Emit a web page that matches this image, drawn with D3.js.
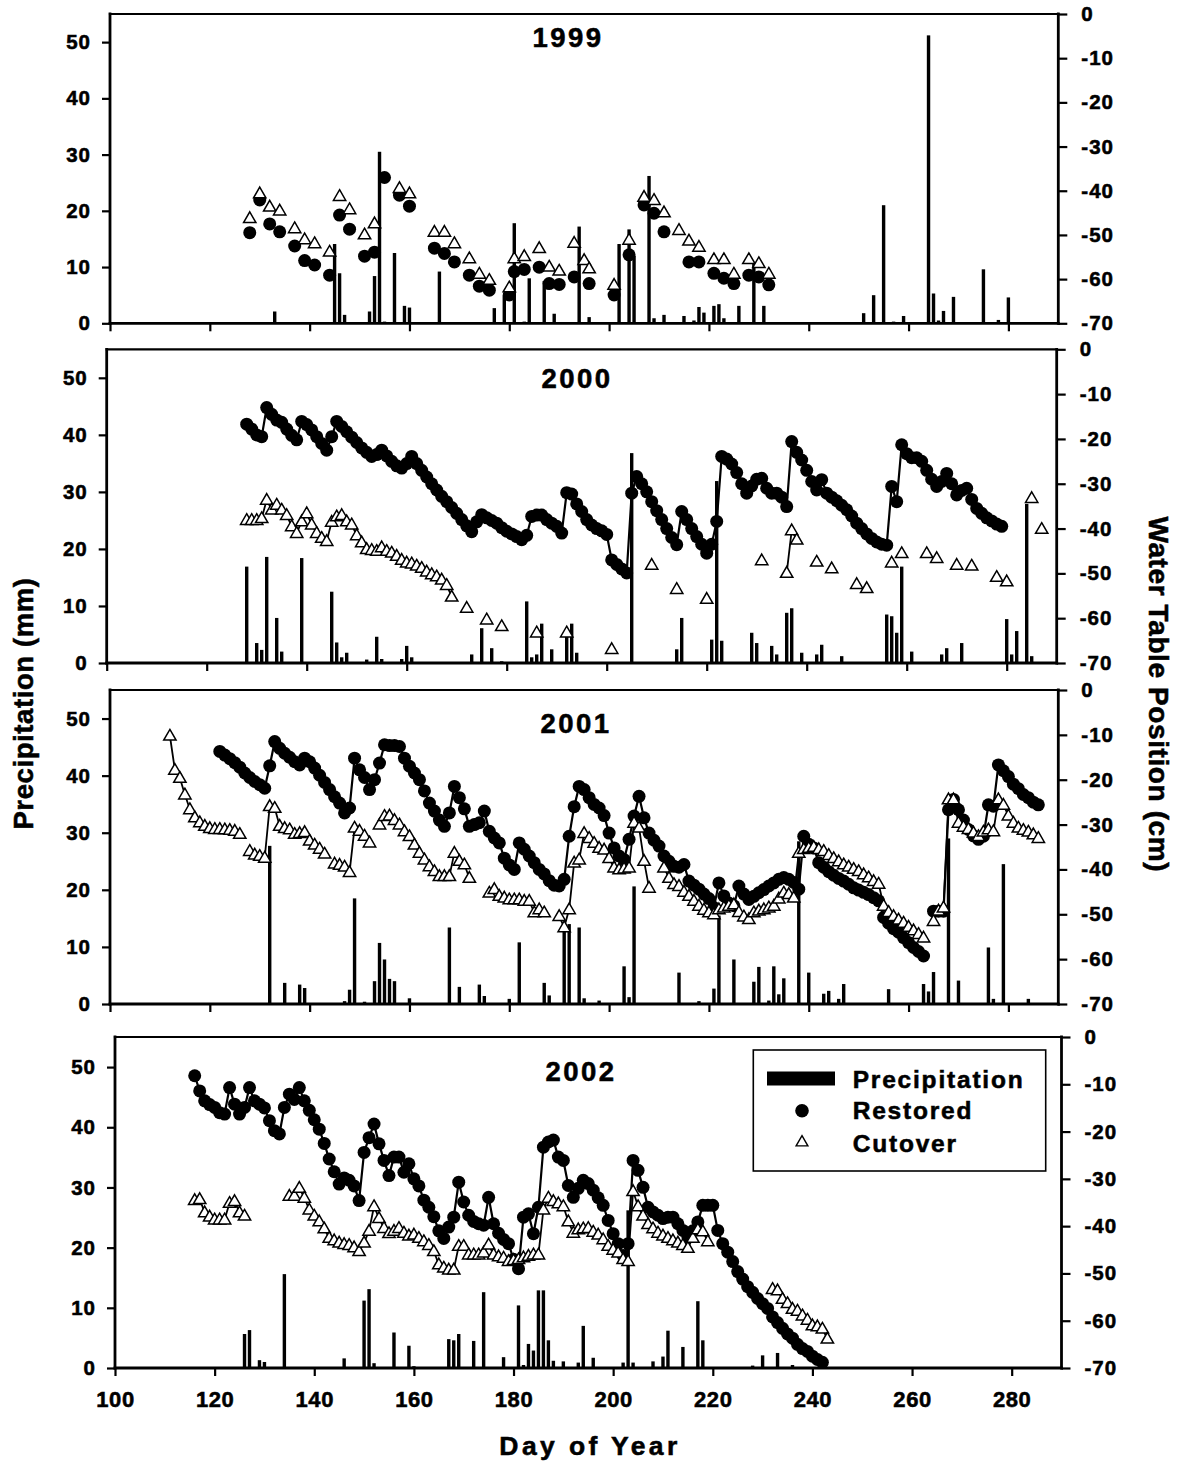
<!DOCTYPE html>
<html>
<head>
<meta charset="utf-8">
<script src="https://cdn.jsdelivr.net/npm/d3@7"></script>
<style>
  body { margin: 0; background: #fff; }
  svg text { font-family: "Liberation Sans", Arial, Helvetica, sans-serif; font-weight: bold; fill: #000; stroke: #000; stroke-width: 0.55px; }
</style>
</head>
<body>
<svg id="chart" width="1179" height="1466"></svg>
<script>
// ---------------- axis ticks ----------------
const dayTicks = [100, 120, 140, 160, 180, 200, 220, 240, 260, 280];
const precipTicks = [0, 10, 20, 30, 40, 50];
const waterTicks = [-70, -60, -50, -40, -30, -20, -10, 0];
const dayDomain = [100, 290];
const precipDomain = [0, 55];
const waterDomain = [-70, 0];

// ---------------- 1999 ----------------
const precip1999Days = [133,145,146,147,152,153,154,155,157,159,160,166,177,179,181,183,184,187,189,194,196,202,204,205,208,209,211,215,217,218,219,221,222,223,226,229,231,251,253,255,257,259,264,265,266,267,269,275,278,280];
const precip1999 = [2.1,14.1,8.9,1.5,2.1,8.4,30.5,0.3,12.5,3.1,2.8,9.2,2.7,5.0,17.8,0.3,8.0,7.5,1.7,17.2,1.1,14.1,16.7,12.0,26.2,0.9,1.5,1.3,0.5,2.9,1.9,3.1,3.4,0.9,3.1,10.7,3.1,1.8,5.0,21.0,0.3,1.3,51.2,5.3,0.5,2.2,4.7,9.6,0.6,4.6];
const restored1999Days = [128,130,132,134,137,139,141,144,146,148,151,153,155,158,160,165,167,169,172,174,176,180,181,183,186,188,190,193,196,201,204,207,209,211,216,218,221,223,225,228,230,232];
const restored1999 = [-49.5,-42.1,-47.5,-49.3,-52.5,-55.8,-56.8,-59.1,-45.5,-48.7,-54.8,-53.9,-37.0,-41.0,-43.5,-53.0,-54.2,-56.1,-59.1,-61.6,-62.5,-63.6,-58.3,-57.8,-57.3,-61.0,-61.2,-59.5,-61.0,-63.6,-54.5,-43.2,-45.1,-49.3,-56.1,-56.1,-58.7,-59.8,-61.0,-59.1,-59.5,-61.3];
const cutover1999Days = [128,130,132,134,137,139,141,144,146,148,151,153,158,160,165,167,169,172,174,176,180,181,183,186,188,190,193,195,196,201,204,207,209,211,214,216,218,221,223,225,228,230,232];
const cutover1999 = [-46.2,-40.6,-43.6,-44.5,-48.5,-51.0,-51.9,-53.8,-41.2,-44.2,-49.9,-47.4,-39.4,-40.6,-49.3,-49.3,-51.9,-55.3,-58.8,-60.2,-61.9,-55.3,-54.8,-53.0,-57.2,-58.1,-51.8,-55.7,-57.6,-61.3,-51.1,-41.4,-42.1,-44.9,-48.9,-51.3,-52.7,-55.5,-55.5,-58.8,-55.5,-56.4,-58.8];

// ---------------- 2000 ----------------
const precip2000Days = [128,130,131,132,134,135,139,145,146,147,148,152,154,155,159,160,161,173,175,177,179,184,185,186,187,189,192,193,194,205,214,215,221,222,223,229,230,233,234,236,237,239,242,243,247,256,257,258,259,261,267,268,271,280,281,282,284,285];
const precip2000 = [16.9,3.5,2.3,18.6,7.9,2.0,18.4,12.5,3.6,1.0,1.8,0.6,4.6,0.7,0.7,3.0,1.0,1.5,6.1,2.6,0.3,10.8,1.0,1.5,6.9,2.4,5.6,6.9,1.8,36.8,2.4,7.9,4.1,31.9,3.9,5.3,3.5,3.0,1.5,8.8,9.6,1.8,1.5,3.2,1.2,8.5,8.2,5.3,16.9,2.0,1.5,2.6,3.5,7.7,1.5,5.6,27.9,1.2];
const restored2000Start = 128;
const restored2000 = [
  -16.7,-17.8,-19.1,-19.5,-13.0,-14.5,-15.8,-16.3,-17.8,-19.2,
  -20.2,-16.1,-16.8,-18.0,-19.5,-21.0,-22.5,-19.5,-16.1,-17.2,
  -18.4,-19.6,-20.8,-22.0,-23.0,-23.9,-23.5,-22.5,-23.8,-25.0,
  -26.0,-26.5,-25.5,-23.9,-25.5,-27.0,-28.5,-30.0,-31.4,-32.8,
  -34.0,-35.3,-36.6,-38.0,-39.4,-40.7,-38.5,-36.9,-37.6,-38.2,
  -38.8,-39.8,-40.6,-41.2,-41.8,-42.5,-41.5,-37.3,-37.0,-37.0,
  -38.0,-38.8,-39.5,-41.0,-32.0,-32.3,-34.5,-36.2,-38.0,-39.2,
  -40.0,-40.5,-41.3,-47.0,-48.0,-49.0,-49.9,-32.1,-28.4,-30.0,
  -31.8,-34.0,-36.0,-38.0,-40.0,-42.0,-43.6,-36.2,-38.0,-40.0,
  -41.8,-43.5,-45.5,-43.5,-38.4,-23.9,-24.5,-25.6,-27.5,-30.0,
  -32.1,-30.5,-29.0,-28.8,-31.0,-32.1,-32.1,-33.0,-35.1,-20.6,
  -23.0,-24.7,-27.0,-29.5,-31.4,-29.1,-32.1,-33.0,-33.8,-34.8,
  -35.8,-37.2,-38.8,-40.0,-41.2,-42.2,-43.0,-43.5,-43.7,-30.6,
  -34.0,-21.3,-23.3,-24.2,-24.2,-25.0,-27.0,-29.0,-30.6,-29.5,
  -27.7,-30.0,-32.5,-31.5,-31.0,-33.5,-35.5,-36.6,-37.6,-38.3,
  -39.0,-39.5];
const cutover2000Start = 128;
const cutover2000 = [
  -38.1,-38.1,-38.1,-37.7,-33.6,-35.8,-34.7,-35.8,-37.0,-39.5,
  -41.0,-38.4,-36.6,-39.1,-41.0,-42.1,-42.8,-38.5,-37.3,-37.0,
  -38.4,-39.1,-41.5,-43.1,-44.6,-44.8,-45.0,-44.2,-45.0,-45.4,
  -46.1,-47.0,-47.6,-47.8,-48.3,-48.8,-49.6,-50.2,-50.7,-51.4,
  -52.6,-55.2];
const cutover2000LateDays = [172,176,179,186,192,201,209,214,220,231,236,237,238,242,245,250,252,257,259,264,266,270,273,278,280,285,287];
const cutover2000Late = [-57.7,-60.3,-61.8,-63.2,-63.2,-66.9,-48.1,-53.5,-55.7,-47.1,-49.9,-40.4,-42.5,-47.4,-48.9,-52.4,-53.3,-47.6,-45.5,-45.5,-46.6,-48.1,-48.3,-50.8,-51.8,-33.2,-40.1];

// ---------------- 2001 ----------------
const precip2001Days = [132,135,138,139,147,148,149,151,153,154,155,156,157,160,168,170,174,175,180,182,187,188,191,192,194,195,198,203,204,205,214,218,221,222,225,229,230,232,233,234,235,238,240,243,244,246,247,256,263,264,265,268,270,276,277,279,284];
const precip2001 = [27.7,3.7,3.4,2.8,0.5,2.5,18.5,0.4,4.0,10.7,7.8,4.4,4.0,1.0,13.4,3.0,3.4,1.4,0.9,10.8,3.7,1.5,13.5,14.0,13.4,1.0,0.6,6.6,1.2,20.6,5.5,0.5,2.7,15.5,7.8,3.9,6.5,0.6,6.6,1.7,4.5,28.5,5.5,1.8,2.3,0.9,3.5,2.6,3.5,2.2,5.6,29.0,4.1,9.9,0.9,24.5,0.9];
const restored2001Start = 122;
const restored2001 = [
  -13.7,-14.5,-15.3,-16.2,-17.2,-18.5,-19.5,-20.4,-21.1,-21.9,
  -16.9,-11.5,-13.0,-14.1,-15.0,-16.0,-16.7,-15.2,-16.0,-17.4,
  -19.0,-20.6,-22.2,-23.8,-25.2,-27.4,-26.3,-15.2,-17.8,-19.5,
  -22.2,-20.0,-16.3,-12.2,-12.4,-12.4,-12.6,-15.2,-17.0,-18.5,
  -20.0,-22.5,-25.2,-27.0,-29.0,-30.4,-27.4,-21.5,-24.0,-26.5,
  -30.4,-30.0,-29.6,-27.0,-31.5,-33.0,-34.1,-37.5,-39.0,-40.0,
  -34.1,-35.5,-37.0,-38.5,-40.0,-41.0,-42.5,-43.5,-43.7,-42.2,
  -32.6,-26.0,-21.5,-22.2,-24.0,-25.5,-26.3,-28.0,-31.9,-35.2,
  -37.0,-37.8,-33.3,-28.1,-23.7,-28.5,-31.9,-33.5,-34.8,-37.0,
  -38.2,-39.3,-39.5,-38.9,-42.6,-43.5,-44.4,-45.5,-46.5,-48.5,
  -43.0,-45.9,-47.5,-48.1,-43.7,-45.5,-46.7,-46.0,-45.2,-44.5,
  -43.7,-43.0,-42.2,-41.8,-42.2,-42.9,-44.4,-32.6,-34.4,-35.2,
  -38.5,-39.5,-40.5,-41.3,-42.0,-42.6,-43.3,-44.1,-44.6,-45.1,
  -45.6,-46.3,-47.0,-50.7,-52.0,-53.2,-54.0,-55.2,-56.3,-57.4,
  -58.3,-59.3,null,-49.3,-49.3,-49.3,-26.7,-24.4,-26.7,-29.0,
  -31.1,-32.5,-33.3,-32.6,-25.6,-25.9,-16.7,-18.0,-19.3,-21.0,
  -22.0,-23.3,-24.0,-25.0,-25.6];
const cutover2001Start = 112;
const cutover2001 = [
  -10.2,-17.8,-19.6,-23.3,-26.6,-28.4,-29.5,-30.3,-30.8,-31.0,
  -31.0,-31.1,-31.2,-31.4,-32.1,null,-35.9,-36.7,-37.0,-37.4,
  -25.9,-26.3,-30.3,-30.8,-31.1,-32.1,-31.9,-31.7,-33.6,-34.5,
  -35.4,-36.5,null,-38.7,-39.0,-39.4,-40.6,-30.7,-31.4,-32.5,
  -34.0,null,-30.0,-28.1,-28.0,-29.0,-30.0,-31.5,-32.6,-34.5,
  -36.3,-37.8,-39.3,-40.4,-41.5,-41.5,-41.5,-36.3,-38.1,-38.9,
  -41.9,null,null,null,-45.2,-44.4,-45.9,-46.3,-46.7,-46.7,
  -46.7,-47.0,-47.0,-49.6,-48.9,-49.6,null,null,-50.4,-52.9,
  -48.9,-38.5,-37.8,-31.9,-33.0,-34.1,-35.2,-35.6,-37.5,-39.6,
  -40.0,-39.8,-39.6,-29.6,-30.7,-38.1,-44.1,null,null,-39.6,
  -41.9,-43.3,-43.7,-45.0,-45.9,-47.0,-48.1,-49.0,-49.6,-50.0,
  -48.9,-48.5,-48.1,-47.8,-49.5,-50.5,-51.1,-49.6,-49.2,-48.9,
  -48.5,-48.1,-46.5,-45.2,-45.5,-46.3,-36.3,-35.5,-35.2,-35.0,
  -35.5,-35.9,-36.8,-37.5,-38.2,-38.9,-39.4,-39.9,-40.4,-41.1,
  -41.8,-42.6,-43.2,-48.1,-49.5,-50.4,-51.2,-51.9,-52.8,-53.6,
  -54.4,-55.2,null,-51.5,-49.2,-48.5,-24.4,-24.4,-29.6,-30.5,
  -31.0,-31.8,-32.6,-31.6,-31.1,-31.5,-24.4,-25.6,-28.0,-29.6,
  -30.7,-31.2,-31.6,-32.2,-33.0];

// ---------------- 2002 ----------------
const precip2002Days = [126,127,129,130,134,146,150,151,152,156,159,160,167,168,169,172,174,178,181,182,183,184,185,186,187,188,190,193,194,196,202,203,204,208,210,211,214,217,218,228,230,233,236];
const precip2002 = [5.65,6.3,1.3,1.0,15.6,1.6,11.2,13.1,0.8,5.9,3.7,0.3,4.8,4.6,5.65,4.5,12.6,1.8,10.4,0.5,4.0,2.9,12.9,12.9,4.6,1.2,1.1,0.9,7.0,1.7,0.9,26.2,0.9,1.1,1.9,6.2,3.5,11.1,4.6,0.4,2.1,2.5,0.5];
const restored2002Start = 116;
const restored2002 = [
  -8.2,-11.4,-13.5,-14.3,-14.9,-16.0,-16.3,-10.7,-14.2,-16.3,
  -14.9,-10.7,-13.5,-14.2,-15.0,-17.7,-19.8,-20.5,-14.9,-12.1,
  -13.2,-10.7,-13.5,-15.5,-17.5,-19.5,-22.5,-25.8,-28.5,-31.1,
  -29.8,-30.3,-31.5,-34.6,-24.4,-21.3,-18.4,-22.6,-26.1,-29.3,
  -25.4,-25.4,-28.6,-26.8,-30.0,-31.5,-34.5,-36.0,-38.0,-41.0,
  -42.6,-40.2,-38.1,-30.7,-34.9,-37.7,-39.0,-39.5,-39.8,-33.9,
  -39.5,-41.5,-42.8,-43.7,-47.0,-49.0,-38.1,-37.4,-41.6,-36.0,
  -23.3,-22.2,-21.8,-25.4,-26.1,-31.4,-33.9,-32.0,-30.3,-31.0,
  -32.4,-34.0,-35.6,-38.8,-41.6,-43.7,-46.2,-43.7,-26.1,-28.2,
  -31.8,-36.0,-37.0,-37.7,-38.4,-38.1,-38.1,-39.5,-40.9,-42.3,
  -41.0,-39.1,-35.6,-35.6,-35.6,-40.9,-43.7,-45.5,-47.5,-49.6,
  -51.2,-52.8,-54.0,-55.3,-56.4,-57.4,-59.2,-60.4,-61.6,-62.8,
  -63.7,-65.0,-65.9,-66.5,-67.5,-68.2,-68.8];
const cutover2002Start = 116;
const cutover2002 = [
  -34.5,-34.3,-37.1,-38.0,-38.6,-38.6,-38.6,-35.1,-34.7,-37.1,
  -37.8,null,null,null,null,null,null,null,null,-33.6,
  -33.6,-31.9,-34.0,-36.5,-37.8,-39.0,-40.5,-42.5,-43.0,-43.5,
  -43.8,-44.0,-44.5,-45.3,-43.5,-41.0,-35.8,-38.3,-40.4,-41.5,
  -41.0,-40.4,-41.4,-42.0,-41.8,-42.5,-43.2,-44.0,-45.3,-48.1,
  -48.8,-49.2,-49.2,-44.2,-44.2,-46.0,-46.0,-46.0,-45.6,-43.9,
  -46.0,-46.4,-46.7,-47.4,-47.2,-47.0,-46.6,-46.3,-46.0,-46.0,
  -36.5,-34.0,-34.7,-35.2,-35.8,-39.0,-41.4,-40.7,-40.5,-40.4,
  -41.2,-41.8,-42.8,-44.2,-45.0,-45.6,-47.0,-47.4,-32.6,-35.8,
  -37.8,-39.6,-40.5,-41.4,-42.0,-42.5,-43.0,-43.5,-44.0,-44.6,
  -42.5,-40.7,-41.1,-43.2];
const cutover2002LateDays = [232,233,234,235,236,237,238,239,240,241,242,243];
const cutover2002Late = [-53.3,-53.6,-55.4,-56.3,-57.5,-57.9,-58.9,-59.8,-61.0,-61.2,-61.7,-63.8];

// ---------------- helpers ----------------
const daily = (start, vals) => vals.map((v, i) => ({ day: start + i, v })).filter(d => d.v !== null);
const paired = (days, vals) => days.map((d, i) => ({ day: d, v: vals[i] }));
// split a point list into runs of consecutive days (a line is only drawn within a run)
function runs(points) {
  const out = [];
  let cur = [];
  points.forEach((p, i) => {
    if (i > 0 && p.day - points[i - 1].day !== 1) { out.push(cur); cur = []; }
    cur.push(p);
  });
  if (cur.length) out.push(cur);
  return out;
}

// ---------------- panel layout ----------------
const panels = [
  { year: "1999", l: 110, r: 1058.3, t: 14, b: 323.3, tx: 567, ty: 46.7, connect: false,
    precip: paired(precip1999Days, precip1999),
    restored: paired(restored1999Days, restored1999),
    cutover: paired(cutover1999Days, cutover1999) },
  { year: "2000", l: 106.7, r: 1056.7, t: 349.3, b: 663, tx: 576, ty: 388.3, connect: true,
    precip: paired(precip2000Days, precip2000),
    restored: daily(restored2000Start, restored2000),
    cutover: daily(cutover2000Start, cutover2000).concat(paired(cutover2000LateDays, cutover2000Late)) },
  { year: "2001", l: 110, r: 1058.3, t: 690, b: 1004, tx: 575, ty: 733.3, connect: true,
    precip: paired(precip2001Days, precip2001),
    restored: daily(restored2001Start, restored2001),
    cutover: daily(cutover2001Start, cutover2001) },
  { year: "2002", l: 115, r: 1061.5, t: 1037, b: 1368, tx: 580, ty: 1081, connect: true, last: true,
    precip: paired(precip2002Days, precip2002),
    restored: daily(restored2002Start, restored2002),
    cutover: daily(cutover2002Start, cutover2002).concat(paired(cutover2002LateDays, cutover2002Late)) }
];

const FONT = '"Liberation Sans", Arial, Helvetica, sans-serif';
const BAR_W = 3.4;
const DOT_R = 6.5;
const tri = d3.symbol().type(d3.symbolTriangle).size(66);
const svg = d3.select("#chart");

panels.forEach(p => {
  const x = d3.scaleLinear().domain(dayDomain).range([p.l, p.r]);
  const yP = d3.scaleLinear().domain(precipDomain).range([p.b, p.t]);
  const yW = d3.scaleLinear().domain(waterDomain).range([p.b, p.t]);
  const g = svg.append("g").attr("class", "panel");

  // daily precipitation bars
  g.append("g").selectAll("rect").data(p.precip).join("rect")
    .attr("x", d => x(d.day) - BAR_W / 2)
    .attr("width", BAR_W)
    .attr("y", d => yP(d.v))
    .attr("height", d => p.b - yP(d.v))
    .attr("fill", "#000");

  const line = d3.line().x(d => x(d.day)).y(d => yW(d.v));

  // restored site water table
  if (p.connect) {
    runs(p.restored).filter(r => r.length > 1).forEach(r =>
      g.append("path").attr("d", line(r)).attr("fill", "none")
        .attr("stroke", "#000").attr("stroke-width", 2.2).attr("stroke-linejoin", "round"));
  }
  g.append("g").selectAll("circle").data(p.restored).join("circle")
    .attr("cx", d => x(d.day)).attr("cy", d => yW(d.v)).attr("r", DOT_R).attr("fill", "#000");

  // cutover site water table
  if (p.connect) {
    runs(p.cutover).filter(r => r.length > 1).forEach(r =>
      g.append("path").attr("d", line(r)).attr("fill", "none")
        .attr("stroke", "#000").attr("stroke-width", 1.8).attr("stroke-linejoin", "round"));
  }
  g.append("g").selectAll("path").data(p.cutover).join("path")
    .attr("d", tri)
    .attr("transform", d => `translate(${x(d.day)},${yW(d.v) + 0.8})`)
    .attr("fill", "#fff").attr("stroke", "#000").attr("stroke-width", 1.5);

  // axes
  const styleAxis = (sel, size, ls) => {
    sel.attr("font-family", FONT).attr("font-size", size).attr("font-weight", "bold");
    sel.select(".domain").remove();
    sel.selectAll(".tick line").attr("stroke", "#000").attr("stroke-width", 2.2);
    sel.selectAll(".tick text").attr("fill", "#000").style("letter-spacing", ls + "px");
  };
  g.append("g").attr("transform", `translate(${p.l},0)`)
    .call(d3.axisLeft(yP).tickValues(precipTicks).tickSize(8).tickPadding(11).tickFormat(d => String(d)))
    .call(s => styleAxis(s, 20.5, 1));
  g.append("g").attr("transform", `translate(${p.r},0)`)
    .call(d3.axisRight(yW).tickValues(waterTicks).tickSize(9).tickPadding(14).tickFormat(d => String(d)))
    .call(s => styleAxis(s, 20.5, 1));
  g.append("g").attr("transform", `translate(0,${p.b})`)
    .call(d3.axisBottom(x).tickValues(dayTicks).tickSize(8).tickPadding(15)
      .tickFormat(d => p.last ? String(d) : ""))
    .call(s => styleAxis(s, 22, 0.6));

  // frame
  const frame = [
    [p.l, p.t, p.l, p.b, 2.8], [p.r, p.t, p.r, p.b, 2.8],
    [p.l, p.b, p.r, p.b, 2.8], [p.l, p.t, p.r, p.t, 2.2]
  ];
  frame.forEach(([x1, y1, x2, y2, w]) =>
    g.append("line").attr("x1", x1).attr("y1", y1).attr("x2", x2).attr("y2", y2)
      .attr("stroke", "#000").attr("stroke-width", w).attr("stroke-linecap", "square"));

  // year title
  g.append("text").attr("x", p.tx + 1).attr("y", p.ty)
    .attr("text-anchor", "middle").attr("font-size", 27.5)
    .style("letter-spacing", "2.5px").text(p.year);
});

// legend (bottom panel)
const lg = svg.append("g").attr("class", "legend");
lg.append("rect").attr("x", 753.3).attr("y", 1050).attr("width", 292.4).attr("height", 121)
  .attr("fill", "#fff").attr("stroke", "#000").attr("stroke-width", 1.6);
lg.append("rect").attr("x", 767).attr("y", 1071.5).attr("width", 68).attr("height", 14).attr("fill", "#000");
lg.append("circle").attr("cx", 802).attr("cy", 1110.8).attr("r", 6.8).attr("fill", "#000");
lg.append("path").attr("d", d3.symbol().type(d3.symbolTriangle).size(60))
  .attr("transform", "translate(802,1142.5)").attr("fill", "#fff").attr("stroke", "#000").attr("stroke-width", 1.4);
const legendItems = [["Precipitation", 1087.7], ["Restored", 1119.3], ["Cutover", 1151.7]];
legendItems.forEach(([label, y]) =>
  lg.append("text").attr("x", 852.7).attr("y", y).attr("font-size", 24.5)
    .style("letter-spacing", "1.8px").text(label));

// axis titles
svg.append("text").attr("transform", "translate(33,703.5) rotate(-90)")
  .attr("text-anchor", "middle").attr("font-size", 27.5).style("letter-spacing", "0.6px")
  .text("Precipitation (mm)");
svg.append("text").attr("transform", "translate(1149,694.3) rotate(90)")
  .attr("text-anchor", "middle").attr("font-size", 28).style("letter-spacing", "0.6px")
  .text("Water Table Position (cm)");
svg.append("text").attr("x", 590).attr("y", 1455)
  .attr("text-anchor", "middle").attr("font-size", 26.5).style("letter-spacing", "3.4px")
  .text("Day of Year");
</script>
</body>
</html>
